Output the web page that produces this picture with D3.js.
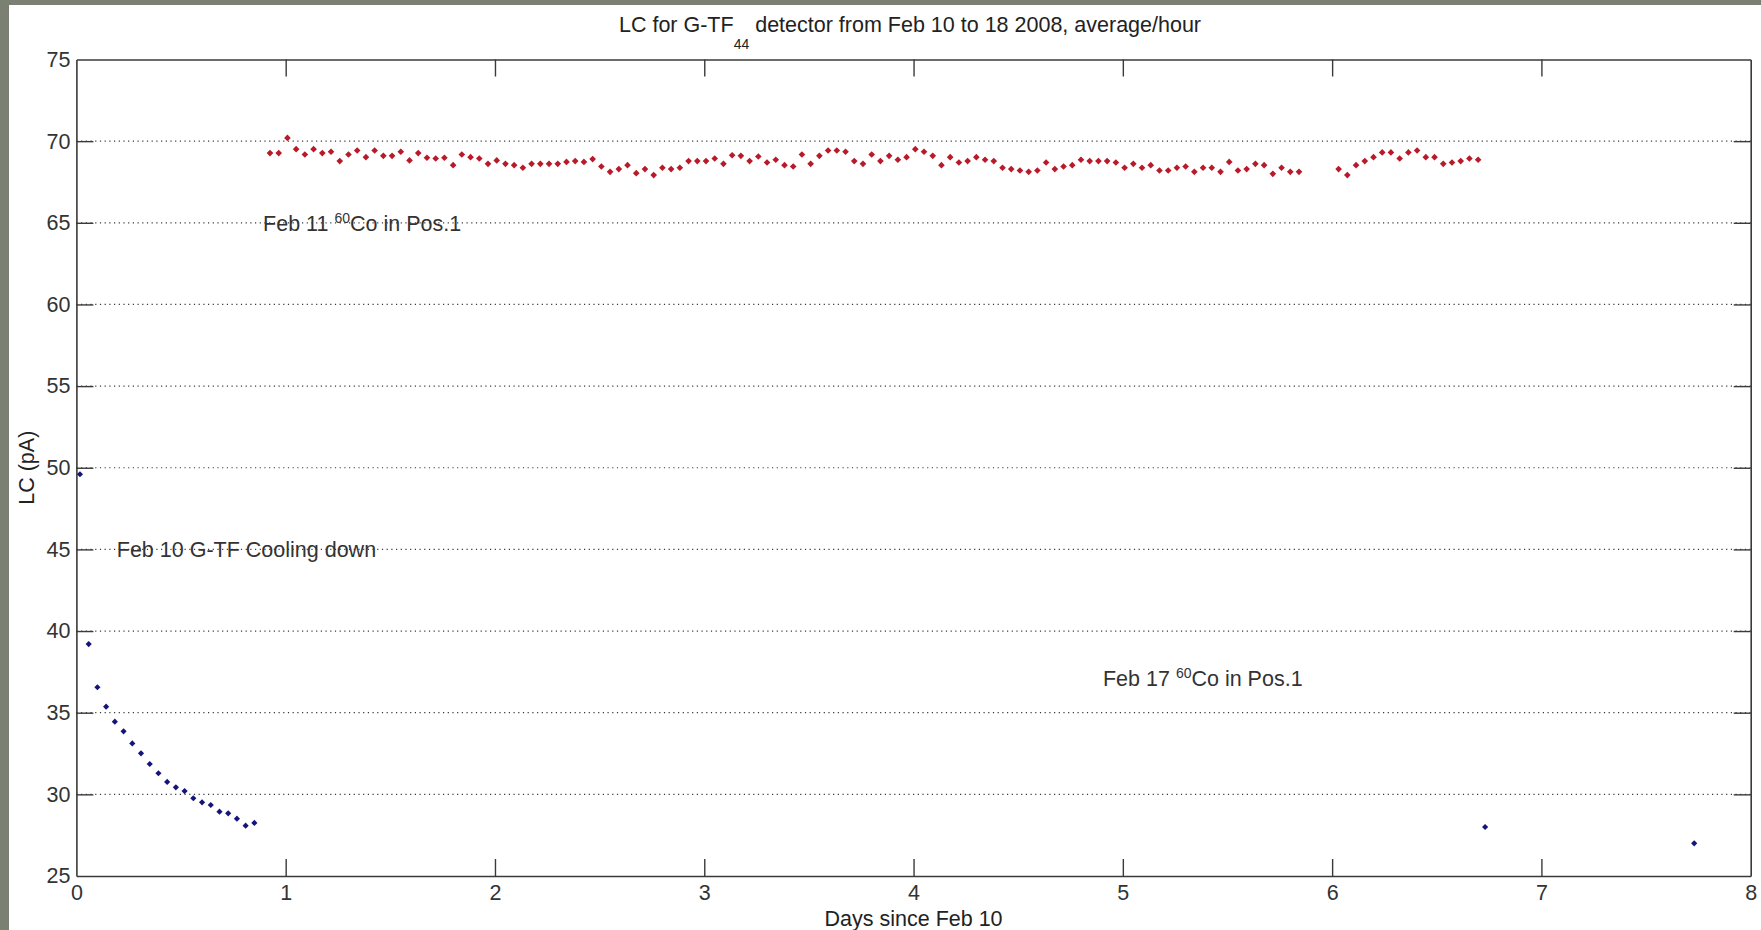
<html>
<head>
<meta charset="utf-8">
<title>LC for G-TF44 detector</title>
<script src="https://cdnjs.cloudflare.com/ajax/libs/d3/7.8.5/d3.min.js"></script>
<style>
body { margin: 0; background: #7b8172; overflow: hidden; }
svg { display: block; font-family: "Liberation Sans", Arial, sans-serif; }
</style>
</head>
<body>
<svg id="chart" width="1761" height="930"></svg>
<script>
// --- data ---
var xTicks = [0, 1, 2, 3, 4, 5, 6, 7, 8];
var yTicks = [25, 30, 35, 40, 45, 50, 55, 60, 65, 70, 75];
var gridValues = [30, 35, 40, 45, 50, 55, 60, 65, 70];

var hour = 1 / 24;

// cooling down, hourly averages starting at day 0.017
var coolStart = 0.017;
var coolValues = [49.6, 39.2, 36.56, 35.37, 34.45, 33.86, 33.12, 32.51, 31.86, 31.29, 30.76,
  30.43, 30.2, 29.76, 29.51, 29.35, 28.94, 28.84, 28.51, 28.08, 28.25];

// source in position, first run (hourly from day 0.925)
var sourceStart1 = 0.925;
var sourceValues1 = [
  69.27, 69.27, 70.2, 69.51, 69.18, 69.51, 69.27, 69.35, 68.78, 69.18, 69.43, 69.02, 69.43, 69.10,
  69.10, 69.35, 68.82, 69.27, 68.98, 68.94, 68.98, 68.53, 69.18, 69.02, 68.94, 68.61, 68.82, 68.61,
  68.53, 68.37, 68.61, 68.61, 68.61, 68.61, 68.73, 68.78, 68.73, 68.90, 68.45, 68.12, 68.29, 68.53,
  68.04, 68.29, 67.92, 68.37, 68.29, 68.37, 68.78, 68.78, 68.78, 68.94, 68.61, 69.14, 69.10, 68.78, 69.06,
  68.69, 68.86, 68.53, 68.45, 69.18, 68.61, 69.10, 69.43, 69.43, 69.35, 68.78, 68.61, 69.18, 68.78,
  69.10, 68.86, 69.02, 69.51, 69.35, 69.10, 68.53, 69.02, 68.69, 68.78, 69.02, 68.86, 68.78, 68.37, 68.29,
  68.20, 68.12, 68.20, 68.69, 68.29, 68.45, 68.53, 68.86, 68.78, 68.78, 68.78, 68.69, 68.37, 68.61,
  68.37, 68.53, 68.20, 68.20, 68.37, 68.45, 68.12, 68.37, 68.37, 68.12, 68.73, 68.20, 68.29, 68.61,
  68.53, 68.00, 68.37, 68.12, 68.12];

// source in position, second run after the gap (hourly from day 6.031)
var sourceStart2 = 6.031;
var sourceValues2 = [68.29, 67.92, 68.53, 68.78, 69.02, 69.31, 69.31, 68.94, 69.31, 69.43, 69.02,
  69.02, 68.61, 68.69, 68.78, 68.94, 68.86];

// two late points without source
var lateDays = [6.731, 7.730];
var lateValues = [28.0, 27.0];

var annotations = [
  { day: 0.892, value: 65, pre: "Feb 11 ", sup: "60", post: "Co in Pos.1" },
  { day: 0.193, value: 45, pre: "Feb 10 G-TF Cooling down", sup: "", post: "" },
  { day: 4.905, value: 37.1, pre: "Feb 17 ", sup: "60", post: "Co in Pos.1" }
];

// --- build point lists ---
function hourly(start, values) {
  return values.map(function(v, i) { return { x: start + i * hour, y: v }; });
}
var bluePoints = hourly(coolStart, coolValues).concat(
  lateDays.map(function(d, i) { return { x: d, y: lateValues[i] }; }));
var redPoints = hourly(sourceStart1, sourceValues1).concat(hourly(sourceStart2, sourceValues2));

// --- layout ---
var W = 1761, H = 930;
var plotL = 76.4, plotR = 1750.7, plotT = 59.5, plotB = 876;
var tickLen = 17;
var fs = 21.5;

var svg = d3.select("#chart");

svg.append("rect").attr("x", 9).attr("y", 5).attr("width", W - 9).attr("height", H - 5).attr("fill", "#fff");

var x = d3.scaleLinear().domain([0, 8]).range([plotL, plotR]);
var y = d3.scaleLinear().domain([25, 75]).range([plotB, plotT]);

// dotted grid
svg.append("g").selectAll("line").data(gridValues).join("line")
  .attr("x1", plotL).attr("x2", plotR)
  .attr("y1", function(d) { return y(d); }).attr("y2", function(d) { return y(d); })
  .attr("stroke", "#3a3a3a").attr("stroke-width", 1.2)
  .attr("stroke-dasharray", "1.2,3.5");

function styleAxis(g) {
  g.selectAll("path.domain").attr("stroke", "#3a3a3a").attr("stroke-width", 1.6);
  g.selectAll(".tick line").attr("stroke", "#3a3a3a").attr("stroke-width", 1.4);
  g.selectAll("text").attr("fill", "#333").attr("font-size", fs)
    .attr("font-family", "'Liberation Sans', Arial, sans-serif");
}

svg.append("g").attr("class", "edge").attr("transform", "translate(0," + plotB + ")")
  .call(d3.axisBottom(x).tickValues(xTicks).tickFormat(d3.format("d"))
    .tickSizeInner(-tickLen).tickSizeOuter(0).tickPadding(9))
  .call(styleAxis);
svg.append("g").attr("class", "edge").attr("transform", "translate(0," + plotT + ")")
  .call(d3.axisTop(x).tickValues(xTicks).tickFormat("")
    .tickSizeInner(-tickLen).tickSizeOuter(0))
  .call(styleAxis);
svg.append("g").attr("class", "edge").attr("transform", "translate(" + plotL + ",0)")
  .call(d3.axisLeft(y).tickValues(yTicks).tickFormat(d3.format("d"))
    .tickSizeInner(-tickLen).tickSizeOuter(0).tickPadding(6))
  .call(styleAxis);
svg.append("g").attr("class", "edge").attr("transform", "translate(" + plotR + ",0)")
  .call(d3.axisRight(y).tickValues(yTicks).tickFormat("")
    .tickSizeInner(-tickLen).tickSizeOuter(0))
  .call(styleAxis);

// remove the edge ticks sitting on the box
svg.selectAll(".edge .tick").filter(function(d) { return d === 0 || d === 8 || d === 25 || d === 75; })
  .select("line").remove();

// markers
var redSym = d3.symbol(d3.symbolSquare).size(22);
var blueSym = d3.symbol(d3.symbolSquare).size(19);

svg.append("g").selectAll("path").data(redPoints).join("path")
  .attr("d", redSym)
  .attr("transform", function(d) { return "translate(" + x(d.x) + "," + y(d.y) + ") rotate(45)"; })
  .attr("fill", "#b81a2a");

svg.append("g").selectAll("path").data(bluePoints).join("path")
  .attr("d", blueSym)
  .attr("transform", function(d) { return "translate(" + x(d.x) + "," + y(d.y) + ") rotate(45)"; })
  .attr("fill", "#14147a");

// annotations
annotations.forEach(function(a) {
  var t = svg.append("text")
    .attr("x", x(a.day)).attr("y", y(a.value)).attr("dy", "0.36em")
    .attr("font-size", fs).attr("fill", "#333");
  t.append("tspan").text(a.pre);
  if (a.sup) {
    t.append("tspan").attr("dy", -8).attr("font-size", 14).text(a.sup);
    t.append("tspan").attr("dy", 8).text(a.post);
  }
});

// title
var title = svg.append("text")
  .attr("x", 910).attr("y", 32).attr("text-anchor", "middle")
  .attr("font-size", fs).attr("fill", "#222");
title.append("tspan").text("LC for G-TF");
title.append("tspan").attr("dy", 17).attr("font-size", 14).text("44");
title.append("tspan").attr("dy", -17).text(" detector from Feb 10 to 18 2008, average/hour");

// axis labels
svg.append("text")
  .attr("x", (plotL + plotR) / 2).attr("y", 926).attr("text-anchor", "middle")
  .attr("font-size", fs).attr("fill", "#222").text("Days since Feb 10");

svg.append("text")
  .attr("transform", "translate(34," + ((plotT + plotB) / 2) + ") rotate(-90)")
  .attr("text-anchor", "middle")
  .attr("font-size", fs).attr("fill", "#222").text("LC (pA)");
</script>
</body>
</html>
